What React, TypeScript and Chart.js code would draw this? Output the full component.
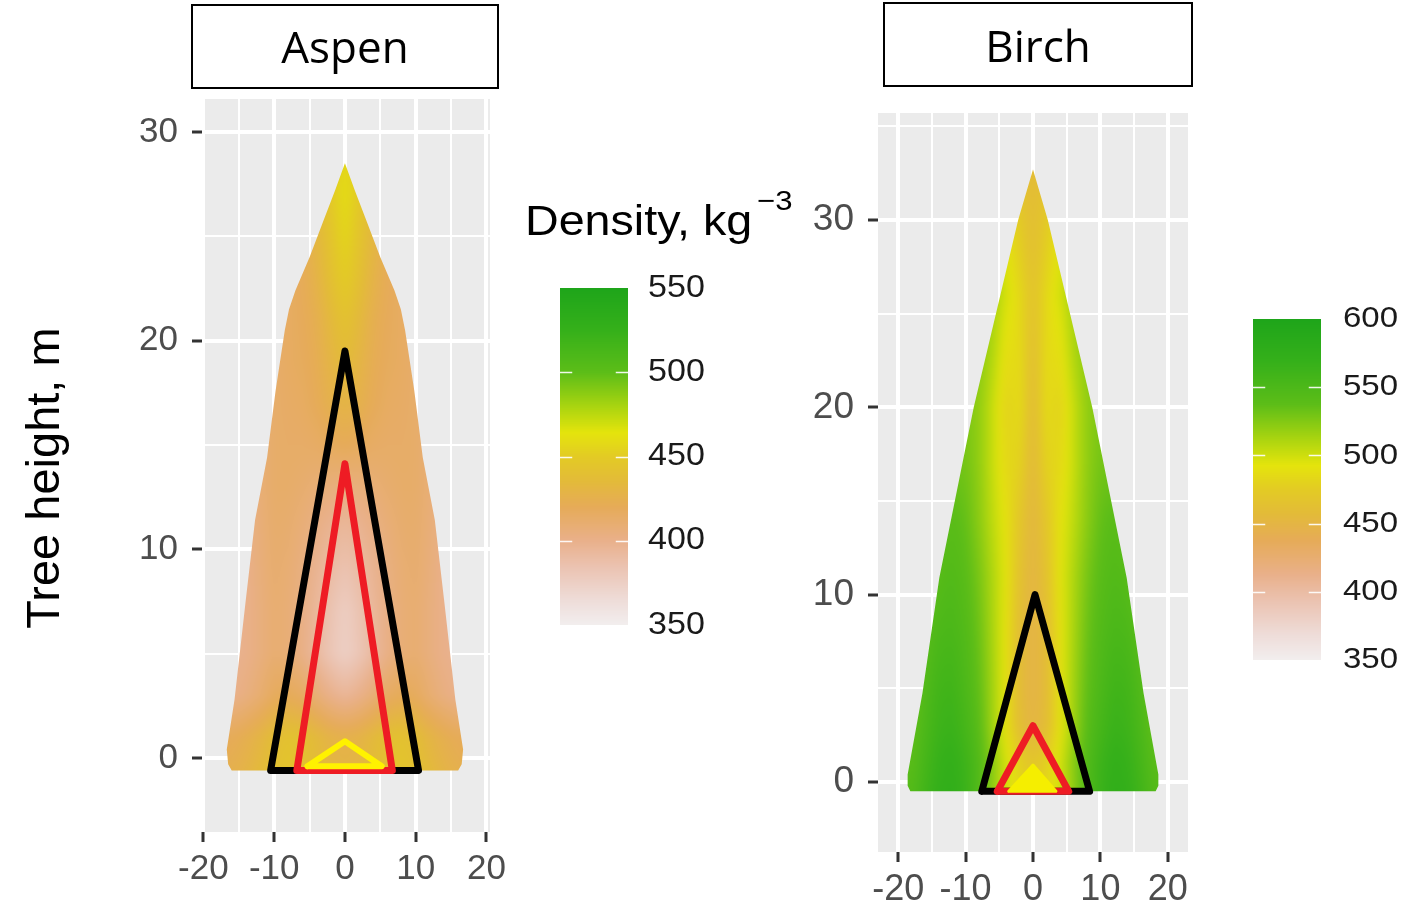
import React, { useEffect, useRef } from 'react';
import { Chart, registerables } from 'chart.js';

Chart.register(...registerables);

// ---------- axes ----------
const widthTicks = [-20, -15, -10, -5, 0, 5, 10, 15, 20];
const aspenHeightTicks = [0, 5, 10, 15, 20, 25, 30];
const birchHeightTicks = [0, 5, 10, 15, 20, 25, 30, 35];

// ---------- crown silhouettes (height, half-width), mirrored about x = 0 ----------
const aspenCrownHeight = [-0.6, -0.3, 0.4, 2.8, 7.6, 11.4, 14.4, 17.6, 20.5, 21.5, 22.4, 24.0, 25.6, 27.2, 28.5];
const aspenCrownHalfWidth = [16.0, 16.5, 16.7, 15.6, 14.0, 12.7, 11.0, 9.8, 8.5, 7.9, 7.0, 5.0, 3.2, 1.4, 0];

const birchCrownHeight = [-0.5, -0.2, 0.4, 4.75, 10.9, 20.0, 30.0, 32.7];
const birchCrownHalfWidth = [18.2, 18.6, 18.6, 16.4, 13.9, 8.8, 2.2, 0];

// ---------- wood density grids (rows = height, columns = distance from stem axis) ----------
const aspenDensityHeights = [-1, 1, 3, 5, 7, 9, 11, 13, 15, 17, 19, 21, 23, 25, 27, 29];
const aspenDensityOffsets = [0, 2, 4, 6, 8, 10, 12, 14, 16, 18];
const aspenDensity = [
  [430, 432, 438, 442, 445, 442, 436, 430, 426, 426],
  [426, 428, 434, 440, 442, 438, 430, 424, 420, 420],
  [395, 400, 408, 416, 420, 418, 410, 404, 400, 400],
  [375, 382, 392, 402, 408, 410, 405, 400, 398, 398],
  [376, 384, 394, 402, 408, 410, 405, 400, 398, 398],
  [384, 390, 397, 404, 409, 411, 406, 400, 398, 398],
  [393, 397, 402, 407, 411, 412, 407, 401, 399, 399],
  [404, 406, 408, 411, 413, 413, 408, 402, 400, 400],
  [420, 418, 415, 414, 414, 413, 408, 403, 401, 401],
  [430, 426, 420, 416, 415, 413, 408, 404, 402, 402],
  [436, 430, 422, 418, 416, 413, 409, 405, 403, 403],
  [442, 434, 424, 419, 416, 413, 410, 406, 404, 404],
  [450, 440, 428, 420, 416, 414, 412, 410, 408, 408],
  [456, 444, 432, 422, 417, 415, 413, 411, 409, 409],
  [460, 448, 436, 426, 420, 418, 416, 414, 412, 412],
  [458, 448, 436, 426, 420, 418, 416, 414, 412, 412],
];

const birchDensityHeights = [-1, 1, 3, 5, 8, 11, 14, 17, 20, 23, 26, 29, 32, 34];
const birchDensityOffsets = [0, 2, 4, 6, 8, 10, 12, 14, 16, 18, 20];
const birchDensity = [
  [480, 485, 498, 520, 545, 565, 575, 572, 560, 545, 545],
  [468, 478, 498, 522, 545, 562, 572, 568, 555, 540, 540],
  [450, 460, 490, 515, 540, 555, 565, 562, 550, 535, 535],
  [448, 458, 490, 514, 536, 550, 560, 558, 546, 532, 532],
  [448, 460, 490, 512, 532, 545, 552, 550, 540, 530, 530],
  [450, 465, 492, 510, 528, 540, 546, 542, 532, 528, 528],
  [452, 470, 490, 505, 522, 535, 540, 535, 530, 526, 526],
  [455, 480, 484, 502, 520, 530, 530, 528, 526, 524, 524],
  [458, 486, 480, 502, 520, 526, 526, 526, 526, 526, 526],
  [462, 486, 488, 510, 522, 524, 524, 524, 524, 524, 524],
  [466, 484, 498, 514, 518, 518, 518, 518, 518, 518, 518],
  [462, 476, 492, 508, 512, 512, 512, 512, 512, 512, 512],
  [458, 466, 478, 490, 500, 500, 500, 500, 500, 500, 500],
  [458, 466, 478, 490, 500, 500, 500, 500, 500, 500, 500],
];

// ---------- stem-zone triangles (x, y) ----------
const aspenOuterX = [-10.5, 0, 10.4, -10.5];
const aspenOuterY = [-0.6, 19.5, -0.6, -0.6];
const aspenMiddleX = [-6.8, 0, 6.7, -6.8];
const aspenMiddleY = [-0.6, 14.1, -0.6, -0.6];
const aspenInnerX = [-5.3, 0, 5.2, -5.3];
const aspenInnerY = [-0.4, 0.8, -0.4, -0.4];

const birchOuterX = [-7.6, 0.3, 8.4, -7.6];
const birchOuterY = [-0.5, 10.0, -0.5, -0.5];
const birchMiddleX = [-5.3, 0, 5.3, -5.3];
const birchMiddleY = [-0.5, 3.0, -0.5, -0.5];
const birchInnerX = [-3.6, 0, 3.4, -3.6];
const birchInnerY = [-0.5, 0.9, -0.5, -0.5];

// ---------- colour scale ----------
const aspenLegendTicks = [350, 400, 450, 500, 550];
const birchLegendTicks = [350, 400, 450, 500, 550, 600];
const colourStopAt = [0, 0.075, 0.175, 0.25, 0.35, 0.43, 0.5, 0.57, 0.65, 0.75, 0.875, 1];
const colourStopHex = ['#f2eeee', '#eedcd8', '#ebc2b0', '#e9b08a', '#e6ab58', '#e3bb38', '#e3cb24', '#e4e40c', '#a8d410', '#5cbd18', '#35b01a', '#1ea51a'];

const AXIS_FONT = '"Liberation Sans", Arial, sans-serif';
const BOX_FONT = '"Open Sans", "Liberation Sans", sans-serif';

const hexRgb = (h: string) => [parseInt(h.slice(1, 3), 16), parseInt(h.slice(3, 5), 16), parseInt(h.slice(5, 7), 16)];
const stopRgb = colourStopHex.map(hexRgb);

const LUT_SIZE = 512;
const colourLut: number[][] = [];
for (let i = 0; i < LUT_SIZE; i++) {
  const t = i / (LUT_SIZE - 1);
  let k = 0;
  while (k < colourStopAt.length - 2 && t > colourStopAt[k + 1]) k++;
  const f = Math.min(1, Math.max(0, (t - colourStopAt[k]) / (colourStopAt[k + 1] - colourStopAt[k])));
  const a = stopRgb[k], b = stopRgb[k + 1];
  colourLut.push([0, 1, 2].map((j) => Math.round(a[j] + (b[j] - a[j]) * f)));
}
const colourFor = (v: number, lo: number, hi: number) => {
  const t = Math.min(1, Math.max(0, (v - lo) / (hi - lo)));
  return colourLut[Math.round(t * (LUT_SIZE - 1))];
};

function locate(arr: number[], v: number): [number, number] {
  const n = arr.length;
  if (v <= arr[0]) return [0, 0];
  if (v >= arr[n - 1]) return [n - 2, 1];
  for (let i = 0; i < n - 1; i++) {
    if (v <= arr[i + 1]) return [i, (v - arr[i]) / (arr[i + 1] - arr[i])];
  }
  return [n - 2, 1];
}

function stretchedText(ctx: CanvasRenderingContext2D, text: string, x: number, y: number, font: string, sx: number, align: CanvasTextAlign, baseline: CanvasTextBaseline, colour: string) {
  ctx.save();
  ctx.translate(x, y);
  ctx.scale(sx, 1);
  ctx.font = font;
  ctx.textAlign = align;
  ctx.textBaseline = baseline;
  ctx.fillStyle = colour;
  ctx.fillText(text, 0, 0);
  ctx.restore();
}

function titleBox(ctx: CanvasRenderingContext2D, x: number, y: number, w: number, h: number, text: string, cx: number, baseline: number) {
  ctx.save();
  ctx.fillStyle = '#ffffff';
  ctx.fillRect(x, y, w, h);
  ctx.strokeStyle = '#000000';
  ctx.lineWidth = 2;
  ctx.strokeRect(x, y, w, h);
  ctx.font = `44px ${BOX_FONT}`;
  ctx.textAlign = 'center';
  ctx.textBaseline = 'alphabetic';
  ctx.fillStyle = '#000000';
  ctx.fillText(text, cx, baseline);
  ctx.restore();
}

function colourBar(ctx: CanvasRenderingContext2D, x: number, w: number, top: number, bottom: number, ticks: number[], labelX: number, labelPx: number) {
  const lo = ticks[0], hi = ticks[ticks.length - 1];
  const toPx = (v: number) => bottom - ((v - lo) / (hi - lo)) * (bottom - top);
  ctx.save();
  for (let py = Math.floor(top); py < bottom; py++) {
    const v = hi - ((py + 0.5 - top) / (bottom - top)) * (hi - lo);
    const c = colourFor(v, lo, hi);
    ctx.fillStyle = `rgb(${c[0]},${c[1]},${c[2]})`;
    ctx.fillRect(x, py, w, 1);
  }
  ctx.strokeStyle = 'rgba(255,255,255,0.9)';
  ctx.lineWidth = 1.5;
  ticks.slice(1, -1).forEach((v) => {
    const py = Math.round(toPx(v)) + 0.5;
    ctx.beginPath();
    ctx.moveTo(x, py);
    ctx.lineTo(x + w * 0.18, py);
    ctx.moveTo(x + w * 0.82, py);
    ctx.lineTo(x + w, py);
    ctx.stroke();
  });
  ticks.forEach((v) => {
    stretchedText(ctx, String(v), labelX, toPx(v), `${labelPx}px ${AXIS_FONT}`, 1.1, 'left', 'middle', '#1a1a1a');
  });
  ctx.restore();
}

interface SpeciesSetup {
  name: string;
  crownHeight: number[];
  crownHalfWidth: number[];
  densityHeights: number[];
  densityOffsets: number[];
  density: number[][];
  densityMin: number;
  densityMax: number;
  decorate: (ctx: CanvasRenderingContext2D) => void;
}

function crownPlugin(s: SpeciesSetup) {
  return {
    id: `crown-${s.name}`,
    beforeDraw(chart: any) {
      const { ctx, chartArea: a } = chart;
      ctx.save();
      ctx.fillStyle = '#ebebeb';
      ctx.fillRect(a.left, a.top, a.right - a.left, a.bottom - a.top);
      ctx.restore();
    },
    beforeDatasetsDraw(chart: any) {
      const { ctx, chartArea: a } = chart;
      const xs = chart.scales.x, ys = chart.scales.y;
      const w = Math.round(a.right - a.left), h = Math.round(a.bottom - a.top);
      const off = document.createElement('canvas');
      off.width = w;
      off.height = h;
      const octx = off.getContext('2d')!;
      const img = octx.createImageData(w, h);
      const colPos = new Array(w);
      for (let px = 0; px < w; px++) {
        colPos[px] = locate(s.densityOffsets, Math.abs(xs.getValueForPixel(a.left + px + 0.5)));
      }
      for (let py = 0; py < h; py++) {
        const [r, fr] = locate(s.densityHeights, ys.getValueForPixel(a.top + py + 0.5));
        const g0 = s.density[r], g1 = s.density[r + 1];
        for (let px = 0; px < w; px++) {
          const [c, fc] = colPos[px];
          const v0 = g0[c] + (g0[c + 1] - g0[c]) * fc;
          const v1 = g1[c] + (g1[c + 1] - g1[c]) * fc;
          const col = colourFor(v0 + (v1 - v0) * fr, s.densityMin, s.densityMax);
          const i = (py * w + px) * 4;
          img.data[i] = col[0];
          img.data[i + 1] = col[1];
          img.data[i + 2] = col[2];
          img.data[i + 3] = 255;
        }
      }
      octx.putImageData(img, 0, 0);

      ctx.save();
      ctx.beginPath();
      const n = s.crownHeight.length;
      for (let i = 0; i < n; i++) {
        const px = xs.getPixelForValue(s.crownHalfWidth[i]);
        const py = ys.getPixelForValue(s.crownHeight[i]);
        if (i === 0) ctx.moveTo(px, py);
        else ctx.lineTo(px, py);
      }
      for (let i = n - 2; i >= 0; i--) {
        ctx.lineTo(xs.getPixelForValue(-s.crownHalfWidth[i]), ys.getPixelForValue(s.crownHeight[i]));
      }
      ctx.closePath();
      ctx.clip();
      ctx.filter = 'blur(4px)';
      ctx.drawImage(off, a.left, a.top);
      ctx.restore();
    },
    afterDraw(chart: any) {
      s.decorate(chart.ctx);
    },
  };
}

const toPoints = (xs: number[], ys: number[]) => xs.map((x, i) => ({ x, y: ys[i] }));

function triangle(xs: number[], ys: number[], colour: string, width: number, order: number, fillColour?: string) {
  return {
    data: toPoints(xs, ys),
    borderColor: colour,
    borderWidth: width,
    borderJoinStyle: 'round',
    borderCapStyle: 'round',
    pointRadius: 0,
    tension: 0,
    fill: fillColour ? 'shape' : false,
    backgroundColor: fillColour || 'transparent',
    order,
  };
}

function axisOptions(min: number, max: number, ticks: number[], fontPx: number, fitSize: number, horizontal: boolean, pad: number) {
  return {
    type: 'linear',
    min,
    max,
    afterBuildTicks: (axis: any) => {
      axis.ticks = ticks.map((v) => ({ value: v }));
    },
    afterFit: (axis: any) => {
      if (horizontal) axis.height = fitSize;
      else axis.width = fitSize;
    },
    border: { display: false },
    grid: {
      color: '#ffffff',
      lineWidth: (c: any) => (c.tick && c.tick.value % 10 === 0 ? 4 : 2),
      tickColor: (c: any) => (c.tick && c.tick.value % 10 === 0 ? '#333333' : 'rgba(0,0,0,0)'),
      tickWidth: 3,
      tickLength: 10,
      drawTicks: true,
    },
    ticks: {
      autoSkip: false,
      maxRotation: 0,
      minRotation: 0,
      padding: pad,
      color: '#4d4d4d',
      font: { family: AXIS_FONT, size: fontPx },
      callback: (v: number) => (v % 10 === 0 ? String(v) : ''),
    },
  };
}

function baseOptions(padding: any, x: any, y: any) {
  return {
    animation: false,
    responsive: false,
    maintainAspectRatio: false,
    events: [],
    layout: { padding },
    plugins: { legend: { display: false }, tooltip: { enabled: false }, title: { display: false } },
    scales: { x, y },
  };
}

const aspenSetup: SpeciesSetup = {
  name: 'aspen',
  crownHeight: aspenCrownHeight,
  crownHalfWidth: aspenCrownHalfWidth,
  densityHeights: aspenDensityHeights,
  densityOffsets: aspenDensityOffsets,
  density: aspenDensity,
  densityMin: aspenLegendTicks[0],
  densityMax: aspenLegendTicks[aspenLegendTicks.length - 1],
  decorate: (ctx) => {
    titleBox(ctx, 192, 5, 306, 83, 'Aspen', 345, 63);
    ctx.save();
    ctx.translate(59, 478);
    ctx.rotate(-Math.PI / 2);
    ctx.font = `47px ${AXIS_FONT}`;
    ctx.textAlign = 'center';
    ctx.textBaseline = 'alphabetic';
    ctx.fillStyle = '#000000';
    ctx.fillText('Tree height, m', 0, 0);
    ctx.restore();
    stretchedText(ctx, 'Density, kg', 525, 235, `42px ${AXIS_FONT}`, 1.11, 'left', 'alphabetic', '#000000');
    stretchedText(ctx, '\u22123', 757, 210, `28px ${AXIS_FONT}`, 1.11, 'left', 'alphabetic', '#000000');
    colourBar(ctx, 560, 68, 288, 625, aspenLegendTicks, 648, 31);
  },
};

const birchSetup: SpeciesSetup = {
  name: 'birch',
  crownHeight: birchCrownHeight,
  crownHalfWidth: birchCrownHalfWidth,
  densityHeights: birchDensityHeights,
  densityOffsets: birchDensityOffsets,
  density: birchDensity,
  densityMin: birchLegendTicks[0],
  densityMax: birchLegendTicks[birchLegendTicks.length - 1],
  decorate: (ctx) => {
    titleBox(ctx, 84, 3, 308, 83, 'Birch', 238, 62);
    colourBar(ctx, 453, 68, 319, 660, birchLegendTicks, 543, 30);
  },
};

export default function App() {
  const aspenRef = useRef<HTMLCanvasElement>(null);
  const birchRef = useRef<HTMLCanvasElement>(null);

  useEffect(() => {
    const aspen = new Chart(aspenRef.current!, {
      type: 'line',
      data: {
        datasets: [
          triangle(aspenOuterX, aspenOuterY, '#000000', 7, 3),
          triangle(aspenMiddleX, aspenMiddleY, '#ee1c24', 7, 2),
          triangle(aspenInnerX, aspenInnerY, '#fff200', 6, 1),
        ] as any,
      },
      options: baseOptions(
        { left: 0, top: 99, right: 310, bottom: 15 },
        axisOptions(-20.2, 20.5, widthTicks, 35, 60, true, 6),
        axisOptions(-3.55, 31.58, aspenHeightTicks, 35, 202, false, 14),
      ) as any,
      plugins: [crownPlugin(aspenSetup)],
    });

    const birch = new Chart(birchRef.current!, {
      type: 'line',
      data: {
        datasets: [
          triangle(birchOuterX, birchOuterY, '#000000', 7, 3),
          triangle(birchMiddleX, birchMiddleY, '#ee1c24', 7, 2),
          triangle(birchInnerX, birchInnerY, '#f5ee00', 3, 1, '#f5ee00'),
        ] as any,
      },
      options: baseOptions(
        { left: 0, top: 113, right: 223, bottom: 5 },
        axisOptions(-23, 23, widthTicks, 36, 50, true, 6),
        axisOptions(-3.74, 35.72, birchHeightTicks, 37, 78, false, 14),
      ) as any,
      plugins: [crownPlugin(birchSetup)],
    });

    return () => {
      aspen.destroy();
      birch.destroy();
    };
  }, []);

  return (
    <div style={{ position: 'fixed', left: 0, top: 0, width: 1411, height: 907, background: '#ffffff', overflow: 'hidden' }}>
      <canvas ref={aspenRef} width={800} height={907} style={{ position: 'absolute', left: 0, top: 0, width: 800, height: 907 }} />
      <canvas ref={birchRef} width={611} height={907} style={{ position: 'absolute', left: 800, top: 0, width: 611, height: 907 }} />
    </div>
  );
}
